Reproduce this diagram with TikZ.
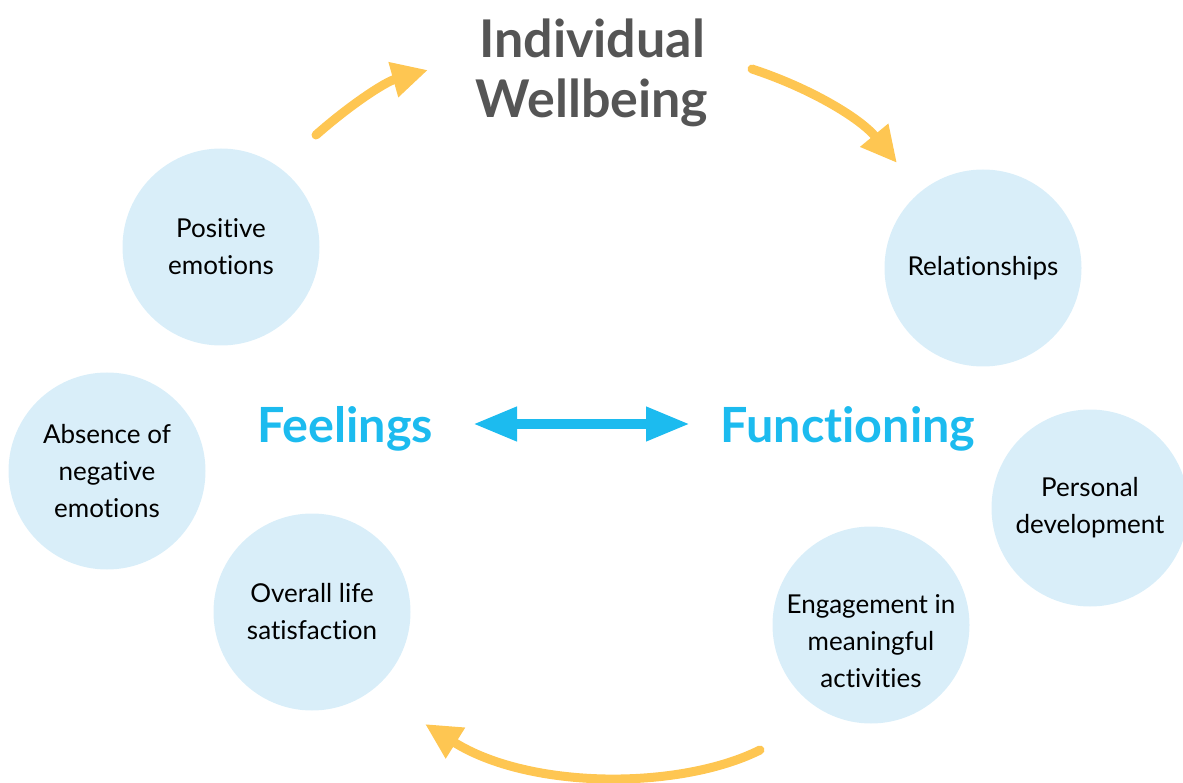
\documentclass[tikz,border=0pt]{standalone}
\usepackage{fontspec}
\setmainfont{Lato}[Ligatures={NoCommon}]
\usetikzlibrary{arrows.meta}
\definecolor{circfill}{HTML}{D9EEF9}
\definecolor{bluetxt}{HTML}{1CBBEF}
\definecolor{greytxt}{HTML}{555555}
\definecolor{yel}{HTML}{FEC652}
\tikzset{
  bubble/.style={circle, fill=circfill, minimum size=197pt, inner sep=0pt, align=center,
    font=\fontsize{26}{37}\selectfont, text=black},
  bubbletext/.style={align=center, font=\fontsize{26}{37}\selectfont, text=black},
  bigword/.style={font=\fontsize{48.5}{50}\bfseries\selectfont, text=bluetxt},
  cyclearrow/.style={draw=yel, line width=9pt, line cap=round, -{Triangle[length=36pt,width=34pt]}},
  linkarrow/.style={draw=bluetxt, line width=10pt, {Triangle[length=44pt,width=32pt]}-{Triangle[length=44pt,width=32pt]}}
}
\begin{document}
\begin{tikzpicture}[x=1pt,y=-1pt]
\useasboundingbox (0,0) rectangle (1183,783);
\node[bubble] (pos) at (221,247) {Positive\\emotions};
\node[bubble] (rel) at (983,268) {Relationships};
\node[bubble] (abs) at (107,471) {Absence of\\negative\\emotions};
\node[bubble] (ovr) at (312,612) {Overall life\\satisfaction};
\node[bubble] (per) at (1090,508) {Personal\\development};
\node[bubble] (eng) at (871,625) {};
\node[bubbletext] (engt) at (871,641) {Engagement in\\meaningful\\activities};
\node[font=\fontsize{52}{60}\bfseries\selectfont, text=greytxt, align=center] (title) at (592,73) {Individual\\Wellbeing};
\node[bigword] (feel) at (345,429) {Feelings};
\node[bigword] (func) at (848,429) {Functioning};
\coordinate (la) at (473,424);
\coordinate (lb) at (690,424);
\draw[linkarrow] (la) -- (lb);
\coordinate (a1s) at (316,135);
\coordinate (a1e) at (428,70);
\coordinate (a2s) at (752,69);
\coordinate (a2e) at (897,163);
\coordinate (a3s) at (760,750);
\coordinate (a3e) at (425,724);
\draw[cyclearrow] (a1s) .. controls (350,105) and (385,82) .. (a1e);
\draw[cyclearrow] (a2s) .. controls (810,88) and (860,118) .. (a2e);
\draw[cyclearrow] (a3s) .. controls (680,790) and (530,790) .. (a3e);
\end{tikzpicture}
\end{document}
